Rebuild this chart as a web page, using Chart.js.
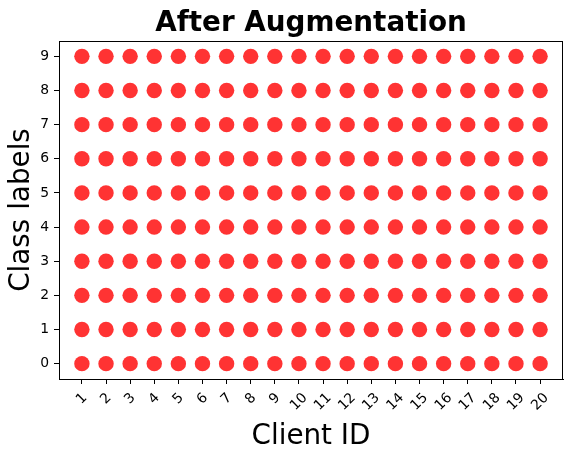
<!DOCTYPE html>
<html>
<head>
<meta charset="utf-8">
<script src="https://cdn.jsdelivr.net/npm/chart.js@4/dist/chart.umd.min.js"></script>
<style>
  body { margin: 0; background: #fff; }
</style>
</head>
<body>
<canvas id="scatterChart" width="573" height="458"></canvas>
<script>
// client ids on x, class labels on y
var clientIds = [1, 2, 3, 4, 5, 6, 7, 8, 9, 10, 11, 12, 13, 14, 15, 16, 17, 18, 19, 20];
var classLabels = [0, 1, 2, 3, 4, 5, 6, 7, 8, 9];

// every client has samples of every class after augmentation
var points = [];
clientIds.forEach(function (c) {
    classLabels.forEach(function (k) {
        points.push({ x: c, y: k });
    });
});

// box around the axes, centred title and 45deg x labels centred on their ticks
var frameAndTitle = {
    id: 'frameAndTitle',
    afterDraw: function (chart) {
        var c = chart.ctx, a = chart.chartArea, xs = chart.scales.x;
        c.save();
        c.strokeStyle = '#000';
        c.lineWidth = 1;
        c.strokeRect(a.left + 0.5, a.top + 0.5, a.right - a.left - 1, a.bottom - a.top);
        c.fillStyle = '#000';
        c.font = 'bold 27.8px "DejaVu Sans"';
        c.textAlign = 'center';
        c.textBaseline = 'middle';
        c.fillText('After Augmentation', (a.left + a.right) / 2, 24);

        c.font = '13.9px "DejaVu Sans"';
        clientIds.forEach(function (v) {
            var txt = String(v);
            var w = c.measureText(txt).width;
            var bh = (w + 16) * Math.SQRT1_2;
            var px = xs.getPixelForValue(v);
            var py = a.bottom + 11 + bh / 2;
            c.save();
            c.translate(px, py);
            c.rotate(-Math.PI / 4);
            c.fillText(txt, 0, 0);
            c.restore();
        });
        c.restore();
    }
};

var ctx = document.getElementById('scatterChart').getContext('2d');
var scatterChart = new Chart(ctx, {
    type: 'scatter',
    data: {
        datasets: [{
            data: points,
            backgroundColor: 'rgba(255, 0, 0, 0.8)',
            borderWidth: 0,
            pointRadius: 7.7,
            pointHoverRadius: 7.7
        }]
    },
    options: {
        responsive: false,
        animation: false,
        layout: { padding: { top: 41, right: 10, bottom: 5, left: 0 } },
        plugins: {
            legend: { display: false },
            title: { display: false },
            tooltip: { enabled: false }
        },
        scales: {
            x: {
                type: 'linear',
                min: 0.05,
                max: 20.95,
                afterBuildTicks: function (scale) {
                    scale.ticks = clientIds.map(function (v) { return { value: v }; });
                },
                afterFit: function (scale) { scale.height = 74; },
                grid: { drawOnChartArea: false, drawTicks: true, tickLength: 5, color: '#000' },
                border: { color: '#000' },
                ticks: {
                    color: 'rgba(0,0,0,0)',
                    autoSkip: false,
                    font: { family: 'DejaVu Sans', size: 13.9 },
                    minRotation: 45,
                    maxRotation: 45,
                    padding: 2
                },
                title: {
                    display: true,
                    text: 'Client ID',
                    color: '#000',
                    font: { family: 'DejaVu Sans', size: 27.8 },
                    padding: { top: 0, bottom: 0 }
                }
            },
            y: {
                type: 'linear',
                min: -0.45,
                max: 9.45,
                afterBuildTicks: function (scale) {
                    scale.ticks = classLabels.map(function (v) { return { value: v }; });
                },
                afterFit: function (scale) { scale.width = 59; },
                grid: { drawOnChartArea: false, drawTicks: true, tickLength: 5, color: '#000' },
                border: { color: '#000' },
                ticks: {
                    color: '#000',
                    font: { family: 'DejaVu Sans', size: 13.9 },
                    padding: 5
                },
                title: {
                    display: true,
                    text: 'Class labels',
                    color: '#000',
                    font: { family: 'DejaVu Sans', size: 27.8 },
                    padding: { top: 5, bottom: 0 }
                }
            }
        }
    },
    plugins: [frameAndTitle]
});
</script>
</body>
</html>
